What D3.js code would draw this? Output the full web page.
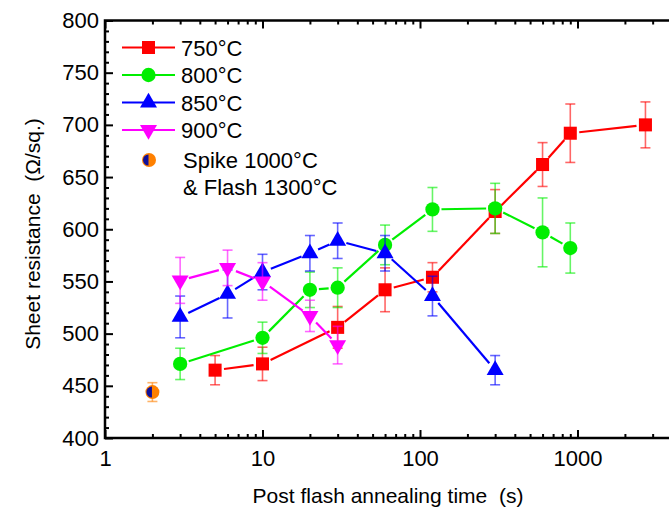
<!DOCTYPE html>
<html>
<head>
<meta charset="utf-8">
<script src="https://cdn.jsdelivr.net/npm/d3@7"></script>
<style>
    body { margin: 0; background: #fff; }
    svg { display: block; font-family: "Liberation Sans", Arial, sans-serif; }
</style>
</head>
<body>
<div id="chart"></div>
<script>
// annealing time (s), sheet resistance (Ohm/sq.) and error, per temperature
const t750 = [5, 10, 30, 60, 120, 300, 600, 900, 2700];
const r750 = [465, 471, 506, 542, 554, 617, 662, 692, 700];
const e750 = [14, 16, 20, 21, 14, 21, 21, 28, 22];

const t800 = [3, 10, 20, 30, 60, 120, 300, 600, 900];
const r800 = [471, 496, 542, 544, 585, 619, 620, 597, 582];
const e800 = [15, 15, 17, 19, 19, 21, 24, 33, 24];

const t850 = [3, 6, 10, 20, 30, 60, 120, 300];
const r850 = [516, 538, 559, 577, 589, 577, 536, 465];
const e850 = [20, 23, 17, 17, 17, 17, 19, 14];

const t900 = [3, 6, 10, 20, 30];
const r900 = [551, 563, 550, 517, 489];
const e900 = [22, 17, 18, 15, 18];

const tSpike = [2];
const rSpike = [444];
const eSpike = [9];

const xTicks = [1, 10, 100, 1000];
const yTicks = [400, 450, 500, 550, 600, 650, 700, 750, 800];

const series = [
    { label: '750°C', t: t750, r: r750, e: e750, color: '#ff0000', symbol: d3.symbolSquare, size: 170, rot: 0 },
    { label: '800°C', t: t800, r: r800, e: e800, color: '#00ee00', symbol: d3.symbolCircle, size: 160, rot: 0 },
    { label: '850°C', t: t850, r: r850, e: e850, color: '#0000ff', symbol: d3.symbolTriangle, size: 125, rot: 0 },
    { label: '900°C', t: t900, r: r900, e: e900, color: '#ff00ff', symbol: d3.symbolTriangle, size: 125, rot: 180 }
];

const W = 669, H = 510;
const svg = d3.select('#chart').append('svg')
    .attr('width', W)
    .attr('height', H);

const plotLeft = 105, plotTop = 20.5, plotBottom = 438;

const x = d3.scaleLog()
    .domain([1, 10000])
    .range([plotLeft, plotLeft + 4 * 157.5]);

const y = d3.scaleLinear()
    .domain([400, 800])
    .range([plotBottom, plotTop]);

const minorX = [];
[1, 10, 100, 1000].forEach(d => { for (let k = 2; k <= 9; k++) minorX.push(d * k); });
const minorY = d3.range(400, 801, 10).filter(v => v % 50 !== 0);

// bottom axis
svg.append('g')
    .attr('transform', `translate(0,${plotBottom})`)
    .call(d3.axisBottom(x).tickValues(xTicks).tickSize(-8).tickPadding(12).tickFormat(d3.format('d')))
    .call(g => g.select('.domain').remove())
    .call(g => g.selectAll('text').attr('font-size', 22).attr('fill', '#000'));

svg.append('g')
    .attr('transform', `translate(0,${plotBottom})`)
    .call(d3.axisBottom(x).tickValues(minorX).tickSize(-4).tickFormat(''))
    .call(g => g.select('.domain').remove());

// top axis
svg.append('g')
    .attr('transform', `translate(0,${plotTop})`)
    .call(d3.axisTop(x).tickValues(xTicks).tickSize(-8).tickFormat(''))
    .call(g => g.select('.domain').remove());

svg.append('g')
    .attr('transform', `translate(0,${plotTop})`)
    .call(d3.axisTop(x).tickValues(minorX).tickSize(-4).tickFormat(''))
    .call(g => g.select('.domain').remove());

// left axis
svg.append('g')
    .attr('transform', `translate(${plotLeft},0)`)
    .call(d3.axisLeft(y).tickValues(yTicks).tickSize(-8).tickPadding(6))
    .call(g => g.select('.domain').remove())
    .call(g => g.selectAll('text').attr('font-size', 22).attr('fill', '#000'));

svg.append('g')
    .attr('transform', `translate(${plotLeft},0)`)
    .call(d3.axisLeft(y).tickValues(minorY).tickSize(-4).tickFormat(''))
    .call(g => g.select('.domain').remove());

svg.selectAll('.tick line')
    .attr('stroke', '#000')
    .attr('stroke-width', 2);

svg.selectAll('.tick text')
    .attr('font-family', '"Liberation Sans", Arial, sans-serif');

// frame
svg.append('rect')
    .attr('x', plotLeft)
    .attr('y', plotTop)
    .attr('width', x(10000) - plotLeft)
    .attr('height', plotBottom - plotTop)
    .attr('fill', 'none')
    .attr('stroke', '#000')
    .attr('stroke-width', 2.5);

// axis titles
svg.append('text')
    .attr('x', 388)
    .attr('y', 503)
    .attr('text-anchor', 'middle')
    .attr('font-size', 21)
    .attr('xml:space', 'preserve')
    .text('Post flash annealing time  (s)');

svg.append('text')
    .attr('transform', 'translate(40,234) rotate(-90)')
    .attr('text-anchor', 'middle')
    .attr('font-size', 21)
    .attr('xml:space', 'preserve')
    .text('Sheet resistance  (Ω/sq.)');

// error bars
function drawErrors(t, r, e, color) {
    const g = svg.append('g')
        .attr('stroke', color)
        .attr('stroke-opacity', 0.6)
        .attr('stroke-width', 1.6);
    t.forEach((d, i) => {
        const cx = x(d);
        g.append('line').attr('x1', cx).attr('x2', cx).attr('y1', y(r[i] + e[i])).attr('y2', y(r[i] - e[i]));
        g.append('line').attr('x1', cx - 5).attr('x2', cx + 5).attr('y1', y(r[i] + e[i])).attr('y2', y(r[i] + e[i]));
        g.append('line').attr('x1', cx - 5).attr('x2', cx + 5).attr('y1', y(r[i] - e[i])).attr('y2', y(r[i] - e[i]));
    });
}

// connecting line with a small gap at each marker
function drawLine(t, r, color) {
    const gap = 9;
    const g = svg.append('g')
        .attr('stroke', color)
        .attr('stroke-width', 2.2);
    for (let i = 0; i < t.length - 1; i++) {
        const x1 = x(t[i]), y1 = y(r[i]), x2 = x(t[i + 1]), y2 = y(r[i + 1]);
        const len = Math.hypot(x2 - x1, y2 - y1);
        if (len <= 2 * gap) continue;
        const ux = (x2 - x1) / len, uy = (y2 - y1) / len;
        g.append('line')
            .attr('x1', x1 + ux * gap).attr('y1', y1 + uy * gap)
            .attr('x2', x2 - ux * gap).attr('y2', y2 - uy * gap);
    }
}

function drawMarker(parent, cx, cy, s) {
    parent.append('path')
        .attr('d', d3.symbol().type(s.symbol).size(s.size))
        .attr('transform', `translate(${cx},${cy}) rotate(${s.rot})`)
        .attr('fill', s.color);
}

series.forEach(s => {
    drawErrors(s.t, s.r, s.e, s.color);
    drawLine(s.t, s.r, s.color);
    const g = svg.append('g');
    s.t.forEach((d, i) => drawMarker(g, x(d), y(s.r[i]), s));
});

// spike + flash point: orange disc with a navy left half inside
const halfArc = d3.arc().innerRadius(0).outerRadius(5.5);
function drawSpike(parent, cx, cy) {
    parent.append('circle')
        .attr('cx', cx)
        .attr('cy', cy)
        .attr('r', 7)
        .attr('fill', '#ff8000');
    parent.append('path')
        .attr('d', halfArc({ startAngle: Math.PI, endAngle: 2 * Math.PI }))
        .attr('transform', `translate(${cx - 0.5},${cy})`)
        .attr('fill', '#10109a');
}
drawErrors(tSpike, rSpike, eSpike, '#ff8000');
const spikeG = svg.append('g');
tSpike.forEach((d, i) => drawSpike(spikeG, x(d), y(rSpike[i])));

// legend
const legend = svg.selectAll('.legend')
    .data(series)
    .enter().append('g')
    .attr('class', 'legend')
    .attr('transform', (d, i) => `translate(0, ${47.5 + i * 27.5})`);

legend.append('line')
    .attr('x1', 122)
    .attr('x2', 175)
    .attr('stroke', d => d.color)
    .attr('stroke-width', 2.2);

legend.each(function (d) { drawMarker(d3.select(this), 148.5, 0, d); });

legend.append('text')
    .attr('x', 181)
    .attr('y', 8)
    .attr('font-size', 22)
    .text(d => d.label);

const spikeLegend = svg.append('g').attr('transform', 'translate(0,160)');
drawSpike(spikeLegend, 149, 0);
spikeLegend.append('text')
    .attr('x', 183)
    .attr('y', 8)
    .attr('font-size', 22)
    .text('Spike 1000°C');
spikeLegend.append('text')
    .attr('x', 183)
    .attr('y', 35)
    .attr('font-size', 22)
    .text('& Flash 1300°C');
</script>
</body>
</html>
